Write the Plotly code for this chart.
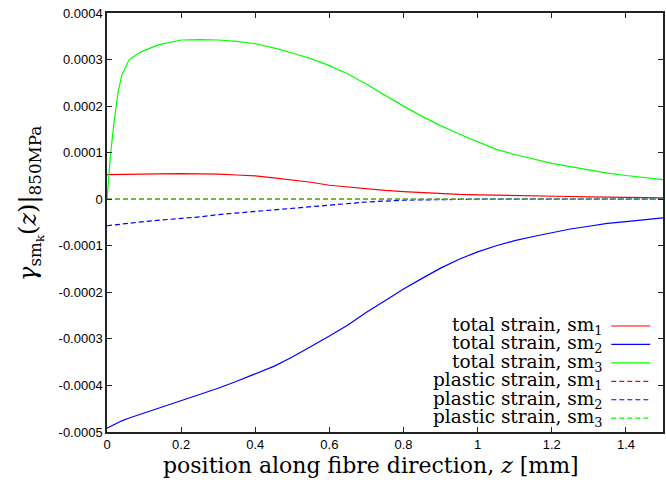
import plotly.graph_objects as go

# ---- data (strain values in units of 1e-4) ----
z = [0, 0.01, 0.02, 0.03, 0.04, 0.06, 0.09, 0.14, 0.2, 0.25, 0.3, 0.35, 0.4, 0.45, 0.5,
     0.55, 0.6, 0.65, 0.7, 0.75, 0.8, 0.85, 0.9, 0.95, 1.0, 1.05, 1.1, 1.15, 1.2, 1.25,
     1.3, 1.35, 1.4, 1.45, 1.5]
total_sm1_e4 = [0.53, 0.53, 0.53, 0.53, 0.53, 0.535, 0.54, 0.545, 0.55, 0.55, 0.54, 0.52, 0.50,
                0.46, 0.42, 0.365, 0.30, 0.26, 0.225, 0.19, 0.165, 0.14, 0.12, 0.105, 0.095,
                0.085, 0.078, 0.07, 0.064, 0.058, 0.052, 0.047, 0.042, 0.036, 0.03]
total_sm2_e4 = [-4.92, -4.88, -4.84, -4.80, -4.76, -4.70, -4.62, -4.49, -4.33, -4.20, -4.06,
                -3.91, -3.75, -3.59, -3.39, -3.17, -2.94, -2.70, -2.43, -2.18, -1.93, -1.70,
                -1.48, -1.29, -1.13, -1.00, -0.89, -0.80, -0.72, -0.64, -0.58, -0.52, -0.48,
                -0.44, -0.40]
total_sm3_e4 = [0.0, 1.0, 1.72, 2.3, 2.67, 3.0, 3.16, 3.32, 3.42, 3.43, 3.42, 3.39, 3.34, 3.25,
                3.14, 3.02, 2.87, 2.69, 2.47, 2.23, 2.0, 1.78, 1.58, 1.40, 1.24, 1.07, 0.96,
                0.86, 0.77, 0.70, 0.63, 0.56, 0.51, 0.46, 0.42]
z_plastic = [0, 0.1, 0.2, 0.25, 0.3, 0.4, 0.5, 0.6, 0.7, 0.8, 0.9, 1.0, 1.5]
plastic_sm1_e4 = [0, 0, 0, 0, 0, 0, 0, 0, 0, 0, 0, 0, 0]
plastic_sm2_e4 = [-0.57, -0.48, -0.41, -0.38, -0.33, -0.26, -0.19, -0.13, -0.06, -0.02,
                  -0.003, 0, 0]
plastic_sm3_e4 = [0, 0, 0, 0, 0, 0, 0, 0, 0, 0, 0, 0, 0]

x_tickvals = [0, 0.2, 0.4, 0.6, 0.8, 1.0, 1.2, 1.4]
x_ticktext = ["0", "0.2", "0.4", "0.6", "0.8", "1", "1.2", "1.4"]
y_tickvals = [0.0004, 0.0003, 0.0002, 0.0001, 0, -0.0001, -0.0002, -0.0003, -0.0004, -0.0005]
y_ticktext = ["0.0004", "0.0003", "0.0002", "0.0001", "0", "-0.0001", "-0.0002", "-0.0003",
              "-0.0004", "-0.0005"]

series = [
    ("total strain, sm<sub>1</sub>", z, total_sm1_e4, "#ff0000", "solid"),
    ("total strain, sm<sub>2</sub>", z, total_sm2_e4, "#0000ff", "solid"),
    ("total strain, sm<sub>3</sub>", z, total_sm3_e4, "#00ff00", "solid"),
    ("plastic strain, sm<sub>1</sub>", z_plastic, plastic_sm1_e4, "#ff0000", "5px,3px"),
    ("plastic strain, sm<sub>2</sub>", z_plastic, plastic_sm2_e4, "#0000ff", "5px,3px"),
    ("plastic strain, sm<sub>3</sub>", z_plastic, plastic_sm3_e4, "#00ff00", "5px,3px"),
]

fig = go.Figure()
serif = "DejaVu Serif"
legend_rows = [0.253, 0.209, 0.165, 0.121, 0.077, 0.033]
for (name, xs, ys, color, dash), ly in zip(series, legend_rows):
    fig.add_trace(go.Scatter(
        x=xs, y=[v * 1e-4 for v in ys], mode="lines", name=name,
        line=dict(color=color, width=1.2, dash=dash), showlegend=False,
    ))
    fig.add_annotation(
        xref="paper", yref="paper", x=0.893, y=ly, xanchor="right", yanchor="middle",
        text=name, showarrow=False, borderpad=0,
        font=dict(family=serif, size=18.5, color="black"),
    )
    fig.add_shape(
        type="line", xref="paper", yref="paper", x0=0.907, x1=0.977, y0=ly, y1=ly,
        line=dict(color=color, width=1.2, dash=dash),
    )

axis_common = dict(
    showgrid=False, zeroline=False, showline=True, linecolor="#222", linewidth=1.5,
    mirror="allticks", ticks="inside", ticklen=5, tickcolor="#222", tickwidth=1,
    tickfont=dict(family="Liberation Sans", size=13, color="black"),
)

fig.update_xaxes(range=[0, 1.5], tickvals=x_tickvals, ticktext=x_ticktext, **axis_common)
fig.update_yaxes(
    range=[-0.0005, 0.0004], tickvals=y_tickvals, ticktext=y_ticktext,
    **axis_common,
)

fig.add_annotation(
    xref="paper", yref="paper", x=0.475, y=-0.079, xanchor="center", yanchor="middle",
    text="position along fibre direction, <i>z</i> [mm]", showarrow=False,
    font=dict(family=serif, size=22, color="black"),
)
fig.add_annotation(
    xref="paper", yref="paper", x=-0.138, y=0.545, xanchor="center", yanchor="middle",
    textangle=-90, showarrow=False,
    text="<i>γ</i><sub>sm<sub>k</sub></sub>(<i>z</i>)|<sub>850MPa</sub>",
    font=dict(family=serif, size=24, color="black"),
)

fig.update_layout(
    width=666, height=482, margin=dict(l=107, r=1, t=13, b=50),
    paper_bgcolor="white", plot_bgcolor="white",
)

fig.write_html("out.html")
